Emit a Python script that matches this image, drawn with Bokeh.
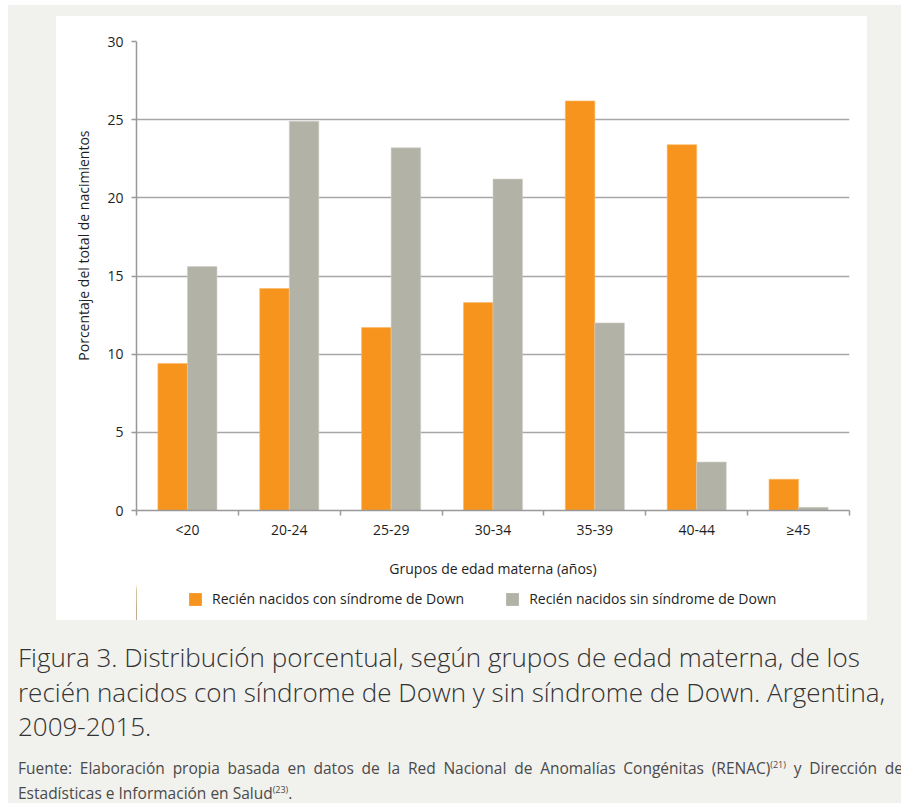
import numpy as np
from bokeh.plotting import figure
from bokeh.models import (Range1d, FixedTicker, Legend, LegendItem, Div, ColumnDataSource, Title)
from bokeh.layouts import column
from bokeh.embed import file_html
from bokeh.resources import INLINE

# ---- data ----
categories = ["<20", "20-24", "25-29", "30-34", "35-39", "40-44", "\u226545"]
con_down = [9.4, 14.2, 11.7, 13.3, 26.2, 23.4, 2.0]
sin_down = [15.6, 24.9, 23.2, 21.2, 12.0, 3.1, 0.2]
y_ticks = [0, 5, 10, 15, 20, 25, 30]
series_names = ["Reci\u00e9n nacidos con s\u00edndrome de Down",
                "Reci\u00e9n nacidos sin s\u00edndrome de Down"]
x_title = "Grupos de edad materna (a\u00f1os)"
y_title = "Porcentaje del total de nacimientos"

ORANGE = "#f7941e"
GREY = "#b2b2a7"
FONT = "Open Sans"
TXT = "#1e1e1e"
FS = "14px"

idx = np.arange(len(categories))
bw = 0.29
src = ColumnDataSource(dict(xc=idx - bw / 2, xs=idx + bw / 2, con=con_down, sin=sin_down))

p = figure(width=811, height=564, output_backend="svg", toolbar_location=None,
           x_range=Range1d(-0.5, len(categories) - 0.5), y_range=Range1d(0, 30),
           min_border_left=80, min_border_right=18, min_border_top=25, min_border_bottom=70,
           border_fill_color=None, background_fill_color=None,
           outline_line_color=None, margin=(11, 0, 0, 48),
           styles={"background-color": "white"})

p.vbar(x="xc", top="con", width=bw, source=src, fill_color=ORANGE,
       line_color="#fbb966", line_width=0.6)
p.vbar(x="xs", top="sin", width=bw, source=src, fill_color=GREY,
       line_color="#d0d0c8", line_width=0.6)

# x axis: labels at centres, ticks at category boundaries
p.xaxis.ticker = FixedTicker(ticks=list(idx), minor_ticks=list(np.arange(len(categories) + 1) - 0.5))
p.xaxis.major_label_overrides = {int(i): c for i, c in zip(idx, categories)}
p.xaxis.major_tick_out = 0
p.xaxis.major_tick_in = 0
p.xaxis.minor_tick_out = 5
p.xaxis.minor_tick_in = 0
p.xaxis.minor_tick_line_color = "#999999"
p.xaxis.minor_tick_line_width = 1.5
p.xaxis.major_label_standoff = 4
p.xaxis.axis_label = x_title
p.xaxis.axis_label_standoff = 17

p.yaxis.ticker = FixedTicker(ticks=y_ticks)
p.yaxis.minor_tick_line_color = None
p.yaxis.major_tick_out = 5
p.yaxis.major_tick_in = 0
p.yaxis.major_label_standoff = 8

for ax in (p.xaxis, p.yaxis):
    ax.axis_line_color = "#999999"
    ax.axis_line_width = 1.5
    ax.major_tick_line_color = "#999999"
    ax.major_tick_line_width = 1.5
    ax.major_label_text_font = FONT
    ax.major_label_text_font_size = FS
    ax.major_label_text_color = TXT
    ax.axis_label_text_font = FONT
    ax.axis_label_text_font_size = FS
    ax.axis_label_text_font_style = "normal"
    ax.axis_label_text_color = TXT

# y-axis title, placed toward the top as in the reference
p.add_layout(Title(text=y_title, align="right", offset=89, standoff=24,
                   text_font=FONT, text_font_size=FS, text_font_style="normal",
                   text_color=TXT), "left")

p.xgrid.grid_line_color = None
p.ygrid.ticker = FixedTicker(ticks=y_ticks)
p.ygrid.grid_line_color = "#a6a6a6"
p.ygrid.grid_line_width = 1.5

# ---- legend strip (white, directly under the chart; its frame aligns with the chart's) ----
lg = figure(width=811, height=40, output_backend="svg", toolbar_location=None,
            x_range=Range1d(100, 101), y_range=Range1d(0, 30),
            x_axis_location=None, y_axis_location=None,
            min_border_left=0, min_border_right=0, min_border_top=0, min_border_bottom=0,
            border_fill_color=None, background_fill_color=None,
            outline_line_color=None, margin=(0, 0, 0, 48),
            styles={"background-color": "white"})
lg.grid.visible = False
# same series, zero width and outside this strip's x-range: only the legend keys show
l1 = lg.vbar(x="xc", top="con", width=0, source=src, fill_color=ORANGE, line_color=None)
l2 = lg.vbar(x="xs", top="sin", width=0, source=src, fill_color=GREY, line_color=None)
legend = Legend(items=[LegendItem(label=series_names[0], renderers=[l1]),
                       LegendItem(label=series_names[1], renderers=[l2])],
                orientation="horizontal", location=(51, 12),
                glyph_width=16, glyph_height=16, label_standoff=9, spacing=40,
                label_text_font=FONT, label_text_font_size=FS, label_text_color=TXT,
                border_line_color=None, background_fill_alpha=0, padding=0, margin=0)
lg.add_layout(legend, "center")

caption = Div(text=("Figura 3. Distribuci\u00f3n porcentual, seg\u00fan grupos de edad materna, de los<br>"
                    "reci\u00e9n nacidos con s\u00edndrome de Down y sin s\u00edndrome de Down. Argentina,<br>"
                    "2009-2015."),
              width=880, margin=(20, 0, 0, 10),
              styles={"font-family": "Open Sans", "font-size": "26px", "font-weight": "300",
                      "line-height": "34.5px", "color": "#333333",
                      "white-space": "nowrap"})

source_txt = Div(text=("<div style='width:885px;text-align:justify;text-align-last:justify;white-space:nowrap'>"
                       "Fuente: Elaboraci\u00f3n propia basada en datos de la Red Nacional de "
                       "Anomal\u00edas Cong\u00e9nitas (RENAC)<sup style='font-size:9px'>(21)</sup> y Direcci\u00f3n de</div>"
                       "<div>Estad\u00edsticas e Informaci\u00f3n en Salud<sup style='font-size:9px'>(23)</sup>.</div>"),
                 width=885, margin=(10, 0, 0, 10),
                 styles={"font-family": "Open Sans", "font-size": "15.5px", "font-weight": "400",
                         "line-height": "22px", "color": "#4a4a4a"})

layout = column(p, lg, caption, source_txt, width=893, height=798, spacing=0, margin=(5, 0, 0, 8),
                styles={"background-color": "#f1f1ed"})

open("out.html", "w").write(file_html(layout, INLINE))
